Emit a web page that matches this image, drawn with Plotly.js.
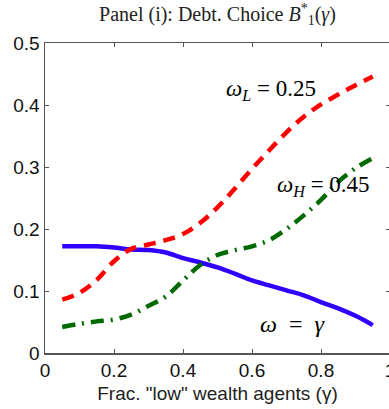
<!DOCTYPE html>
<html>
<head>
<meta charset="utf-8">
<script src="https://cdn.plot.ly/plotly-3.0.1.min.js"></script>
<style>
  html, body { margin: 0; padding: 0; overflow: hidden; background: #fff; }
  #chart { width: 400px; height: 409px; }
</style>
</head>
<body>
<div id="chart"></div>
<script>
// Fraction of "low" wealth agents
const gamma = [0.05, 0.10, 0.15, 0.20, 0.25, 0.30, 0.35, 0.40, 0.45, 0.50,
               0.55, 0.60, 0.65, 0.70, 0.75, 0.80, 0.85, 0.90, 0.95];

// Debt choice B1*(gamma) under three weighting schemes
const debtOmegaL = [0.086, 0.097, 0.118, 0.148, 0.168, 0.175, 0.182, 0.192, 0.210, 0.235,
                    0.265, 0.297, 0.327, 0.356, 0.381, 0.401, 0.417, 0.432, 0.446];
const debtOmegaH = [0.042, 0.047, 0.051, 0.054, 0.062, 0.076, 0.091, 0.117, 0.142, 0.158,
                    0.166, 0.172, 0.182, 0.200, 0.222, 0.247, 0.276, 0.298, 0.314];
const debtOmegaGamma = [0.172, 0.172, 0.172, 0.170, 0.167, 0.166, 0.162, 0.153, 0.146, 0.138,
                        0.128, 0.117, 0.109, 0.101, 0.093, 0.082, 0.072, 0.060, 0.045];

const xTicks = [0, 0.2, 0.4, 0.6, 0.8, 1];
const xTickText = ['0', '0.2', '0.4', '0.6', '0.8', '1'];
const yTicks = [0, 0.1, 0.2, 0.3, 0.4, 0.5];
const yTickText = ['0', '0.1', '0.2', '0.3', '0.4', '0.5'];

const serif = 'Liberation Serif, Times New Roman, serif';
const sans = 'Liberation Sans, Arial, sans-serif';

const traces = [
  { x: gamma, y: debtOmegaGamma, mode: 'lines', line: { color: '#3000ff', width: 4.5, shape: 'spline' } },
  { x: gamma, y: debtOmegaL, mode: 'lines', line: { color: '#ff0000', width: 4.5, dash: '12px,8px', shape: 'spline' } },
  { x: gamma, y: debtOmegaH, mode: 'lines', line: { color: '#006a00', width: 4.5, dash: '13px,7px,2px,7px', shape: 'spline' } }
];

const axisCommon = {
  showline: true, mirror: 'ticks', linecolor: '#555', linewidth: 1.5,
  ticks: 'inside', ticklen: 4, tickcolor: '#555', tickwidth: 1,
  showgrid: false, zeroline: false,
  tickfont: { family: sans, size: 19, color: '#111' }
};

const layout = {
  width: 400, height: 409,
  margin: { l: 45, r: 10, t: 43, b: 56 },
  paper_bgcolor: '#fff', plot_bgcolor: '#fff',
  showlegend: false,
  title: {
    text: 'Panel (i): Debt. Choice <i>B</i><sup>*</sup><sub>1</sub>(<i>γ</i>)',
    font: { family: serif, size: 20, color: '#222' },
    x: 217.5, xref: 'paper', xanchor: 'center',
    y: 0.966, yref: 'container', yanchor: 'middle'
  },
  xaxis: Object.assign({}, axisCommon, {
    range: [0, 1], tickvals: xTicks, ticktext: xTickText, ticklabeloverflow: 'allow',
    title: { text: 'Frac. "low" wealth agents (γ)', font: { family: sans, size: 19, color: '#222' }, standoff: 6 }
  }),
  yaxis: Object.assign({}, axisCommon, {
    range: [0, 0.5], tickvals: yTicks, ticktext: yTickText
  }),
  annotations: [
    { x: 0.655, y: 0.425, xref: 'x', yref: 'y', showarrow: false,
      text: '<i>ω</i><sub><i>L</i></sub> = 0.25', font: { family: serif, size: 23, color: '#000' } },
    { x: 0.806, y: 0.27, xref: 'x', yref: 'y', showarrow: false,
      text: '<i>ω</i><sub><i>H</i></sub> = 0.45', font: { family: serif, size: 23, color: '#000' } },
    { x: 0.716, y: 0.047, xref: 'x', yref: 'y', showarrow: false,
      text: '<i>ω</i>  =  <i>γ</i>', font: { family: serif, size: 24, color: '#000' }, bgcolor: '#fff' }
  ]
};
// center the title over the plot area
layout.title.x = 0.5;

Plotly.newPlot('chart', traces, layout, { displayModeBar: false, staticPlot: true });
</script>
</body>
</html>
